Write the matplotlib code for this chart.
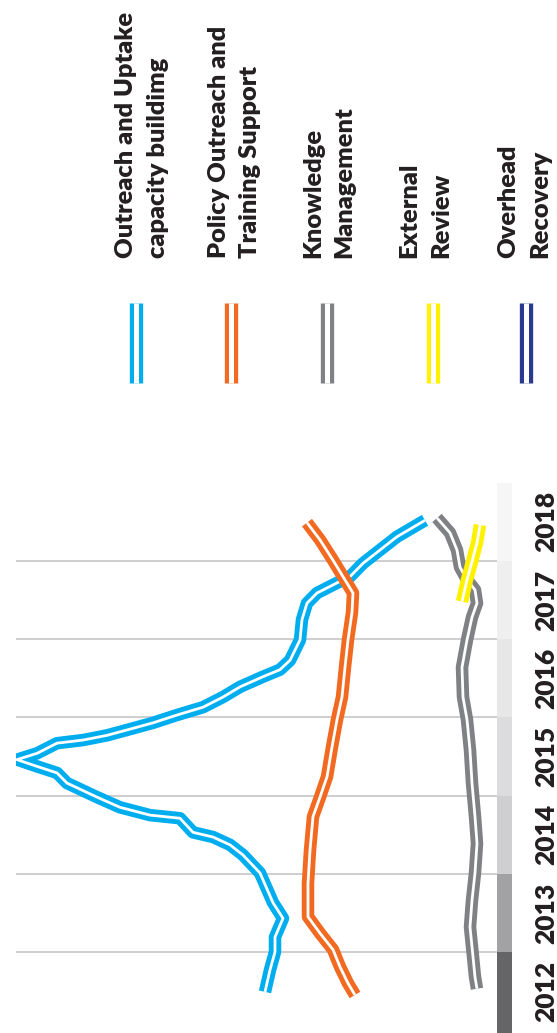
import matplotlib
matplotlib.use("Agg")
import matplotlib.pyplot as plt
from matplotlib.lines import Line2D
from matplotlib.transforms import blended_transform_factory

# ---------------- data ----------------
years = [2012, 2013, 2014, 2015, 2016, 2017, 2018]
year_labels = ["2012", "2013", "2014", "2015", "2016", "2017", "2018"]

series_names = [
    "Outreach and Uptake\ncapacity buildimg",
    "Policy Outreach and\nTraining Support",
    "Knowledge\nManagement",
    "External\nReview",
    "Overhead\nRecovery",
]

outreach_t = [2012.49, 2012.77, 2013.00, 2013.19, 2013.43, 2013.63, 2014.01, 2014.24,
              2014.37, 2014.47, 2014.53, 2014.71, 2014.75, 2014.85, 2014.98, 2015.16,
              2015.29, 2015.39, 2015.46, 2015.54, 2015.67, 2015.71, 2015.77, 2015.86,
              2015.93, 2016.03, 2016.13, 2016.26, 2016.39, 2016.52, 2016.61, 2016.73,
              2016.99, 2017.25, 2017.46, 2017.59, 2017.72, 2017.80, 2017.97, 2018.14,
              2018.31, 2018.52]
outreach_v = [1160, 1135, 1110, 1110, 1070, 1120, 1185, 1270,
              1335, 1420, 1520, 1585, 1735, 1885, 2000, 2150,
              2200, 2320, 2400, 2300, 2200, 2070, 1950, 1820,
              1720, 1600, 1470, 1370, 1285, 1170, 1085, 1035,
              985, 975, 950, 900, 800, 735, 670, 585,
              500, 360]

policy_t = [2012.45, 2012.60, 2012.81, 2013.03, 2013.24, 2013.45, 2013.88, 2014.30,
            2014.73, 2014.98, 2015.24, 2015.62, 2015.97, 2016.26, 2016.64, 2016.99,
            2017.34, 2017.59, 2017.80, 2018.01, 2018.27, 2018.49]
policy_v = [710, 745, 785, 820, 885, 945, 945, 935,
            920, 885, 850, 825, 800, 775, 760, 745,
            725, 720, 770, 820, 885, 950]

knowledge_t = [2012.53, 2012.68, 2012.94, 2013.32, 2013.66, 2014.01, 2014.39, 2014.73,
               2015.16, 2015.58, 2015.97, 2016.26, 2016.64, 2016.99, 2017.28, 2017.46,
               2017.63, 2017.76, 2017.92, 2018.14, 2018.36, 2018.55]
knowledge_v = [100, 110, 120, 135, 125, 110, 100, 110,
               125, 135, 150, 170, 175, 150, 125, 100,
               110, 150, 185, 200, 235, 300]

review_t = [2017.48, 2017.76, 2017.99, 2018.23, 2018.46]
review_v = [175, 150, 125, 100, 85]

overhead_t = []
overhead_v = []

colors = ["#00aeef", "#f26a21", "#808184", "#fff200", "#2b3a8f"]
band_colors = ["#656567", "#a2a2a5", "#cfcfd1", "#dcdcde", "#e7e7e8", "#efeff0", "#f6f6f6"]

# ---------------- figure ----------------
W, H = 557, 1033
fig = plt.figure(figsize=(W / 100, H / 100), dpi=100)
fig.patch.set_facecolor("white")

FONT = ["Lato", "DejaVu Sans"]
WEIGHT = "heavy"

def fx(px):
    return px / W

def fy(py):
    return 1 - py / H

ax_left, ax_right, ax_top = 16, 497, 483
ax = fig.add_axes([fx(ax_left), 0, (ax_right - ax_left) / W, (H - ax_top) / H])
ax.set_xlim(2405, 0)
ax.set_ylim(2011.964, 2018.997)
for s in ax.spines.values():
    s.set_visible(False)
ax.set_xticks([])
ax.set_yticks([])
ax.patch.set_alpha(0)

for y in years[1:]:
    ax.axhline(y, color="#c6c6c6", lw=1.2, zorder=1)

# year band strip
sax = fig.add_axes([fx(497), 0, 15 / W, (H - ax_top) / H])
sax.set_xlim(0, 1)
sax.set_ylim(2011.964, 2018.997)
sax.axis("off")
for i, y in enumerate(years):
    lo = y if i > 0 else 2011.9
    sax.axhspan(lo, y + 1, color=band_colors[i], lw=0)

# lines
all_series = [(outreach_v, outreach_t), (policy_v, policy_t),
              (knowledge_v, knowledge_t), (review_v, review_t),
              (overhead_v, overhead_t)]
z = 3
for (v, t), c in zip(all_series, colors):
    if len(v) == 0:
        continue
    ax.plot(v, t, color=c, lw=9.0, solid_capstyle="butt", solid_joinstyle="round", zorder=z)
    ax.plot(v, t, color="white", lw=2.0, solid_capstyle="butt", solid_joinstyle="round", zorder=z + 0.5)
    z += 1

# year labels
tr = blended_transform_factory(fig.transFigure, ax.transData)
for y, lab in zip(years, year_labels):
    ax.text(fx(554), y + 0.5, lab, transform=tr, rotation=90, rotation_mode="anchor",
            ha="center", va="baseline", fontsize=19, fontweight=WEIGHT,
            color="#231f20", family=FONT, clip_on=False)

# legend
marker_x = [136, 231, 327, 433, 526]
baselines = [(133, 165), (226, 257), (320, 351), (416, 448), (515, 547)]
for name, c, mx, bl in zip(series_names, colors, marker_x, baselines):
    fig.add_artist(Line2D([fx(mx), fx(mx)], [fy(303), fy(383)], transform=fig.transFigure,
                          color=c, lw=9.6, solid_capstyle="butt"))
    fig.add_artist(Line2D([fx(mx), fx(mx)], [fy(303), fy(383)], transform=fig.transFigure,
                          color="white", lw=3.6, solid_capstyle="butt"))
    for line, b in zip(name.split("\n"), bl):
        fig.text(fx(b), fy(258), line, rotation=90, rotation_mode="anchor",
                 ha="left", va="baseline", fontsize=18.3, fontweight=WEIGHT,
                 color="#231f20", family=FONT)

fig.savefig("out.png", dpi=100, facecolor="white")
